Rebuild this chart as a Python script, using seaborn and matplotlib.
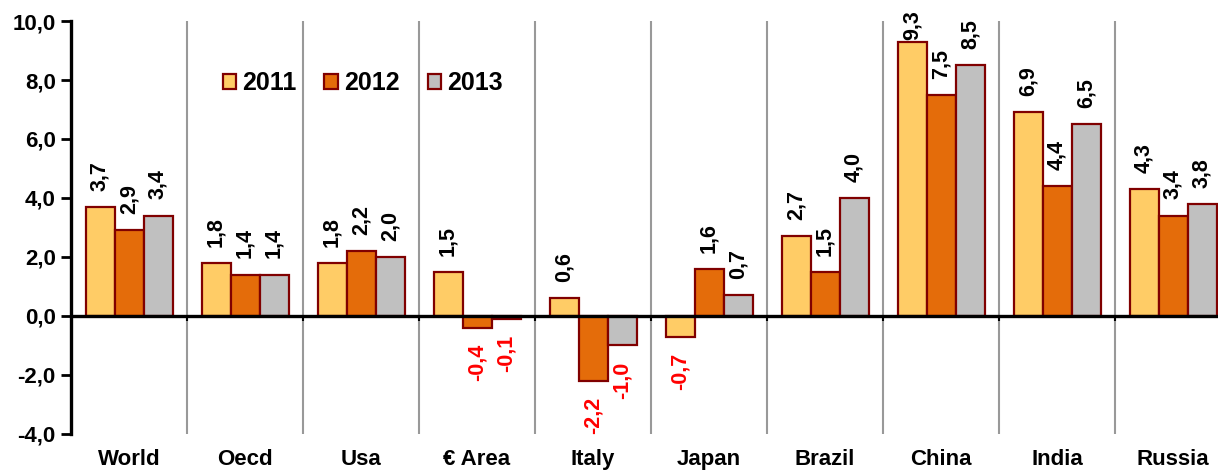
import numpy as np
import pandas as pd
import matplotlib
matplotlib.use("Agg")
import matplotlib.pyplot as plt
import seaborn as sns
from matplotlib.ticker import FuncFormatter

# ── Data ─────────────────────────────────────────────────────────────────────
CATEGORIES = ["World", "Oecd", "Usa", "€ Area", "Italy", "Japan",
              "Brazil", "China", "India", "Russia"]
YEARS = ["2011", "2012", "2013"]
GDP_2011 = [3.7, 1.8, 1.8, 1.5, 0.6, -0.7, 2.7, 9.3, 6.9, 4.3]
GDP_2012 = [2.9, 1.4, 2.2, -0.4, -2.2, 1.6, 1.5, 7.5, 4.4, 3.4]
GDP_2013 = [3.4, 1.4, 2.0, -0.1, -1.0, 0.7, 4.0, 8.5, 6.5, 3.8]

COLORS = ["#FFCC66", "#E46C0A", "#C0C0C0"]
EDGE = "#800000"


def fmt_comma(v, _pos=None):
    return f"{v:.1f}".replace(".", ",")


df = pd.DataFrame({
    "country": CATEGORIES * 3,
    "year": np.repeat(YEARS, len(CATEGORIES)),
    "value": GDP_2011 + GDP_2012 + GDP_2013,
})

sns.set_style("white")
plt.rcParams["font.family"] = ["Liberation Sans", "DejaVu Sans"]
plt.rcParams["font.weight"] = "bold"
plt.rcParams["text.color"] = "black"
plt.rcParams["xtick.color"] = "black"
plt.rcParams["ytick.color"] = "black"

fig = plt.figure(figsize=(12.18, 4.71), dpi=100)
ax = fig.add_axes([71 / 1218, 0.0786, 1160 / 1218, 0.8768])

sns.barplot(
    data=df, x="country", y="value", hue="year", order=CATEGORIES,
    hue_order=YEARS, palette=COLORS, width=0.75, gap=0,
    edgecolor=EDGE, linewidth=1.6, saturation=1, ax=ax,
)

ax.set_xlim(-0.5, len(CATEGORIES) - 0.5)
ax.set_ylim(-4, 10)

# ── Separators, zero line ────────────────────────────────────────────────────
for b in np.arange(0.5, len(CATEGORIES) - 0.5, 1.0):
    ax.axvline(b, color="#999999", lw=1.5, zorder=0)
    ax.vlines(b, -0.18, 0, color="black", lw=1.5, zorder=3)
ax.axhline(0, color="black", lw=2.4, zorder=3)

# ── Value labels ─────────────────────────────────────────────────────────────
series = [GDP_2011, GDP_2012, GDP_2013]
for container, vals in zip(ax.containers, series):
    for bar, v in zip(container, vals):
        x = bar.get_x() + bar.get_width() / 2
        if v >= 0:
            y = min(v + 0.55, 9.35)
            ax.text(x, y, fmt_comma(v), rotation=90, ha="center", va="bottom",
                    fontsize=15.5, fontweight="bold", color="black",
                    clip_on=False)
        else:
            ax.text(x, v - 0.55, fmt_comma(v), rotation=90, ha="center",
                    va="top", fontsize=15.5, fontweight="bold", color="red",
                    clip_on=False)

# ── Axes styling ─────────────────────────────────────────────────────────────
for side in ("top", "right", "bottom"):
    ax.spines[side].set_visible(False)
ax.spines["left"].set_linewidth(2.4)
ax.spines["left"].set_color("black")

ax.set_yticks(np.arange(-4, 10.1, 2))
ax.yaxis.set_major_formatter(FuncFormatter(fmt_comma))
ax.tick_params(axis="y", direction="out", length=7, width=2, color="black",
               labelcolor="black", labelsize=16, left=True, pad=4)
ax.tick_params(axis="x", length=0, labelsize=16, labelcolor="black", pad=11)
for lbl in ax.get_xticklabels() + ax.get_yticklabels():
    lbl.set_fontweight("bold")
ax.set_xlabel("")
ax.set_ylabel("")

handles, labels = ax.get_legend_handles_labels()
ax.get_legend().remove()
fig.legend(
    handles, labels, loc="center left", bbox_to_anchor=(200 / 1218, 1 - 83 / 471),
    ncols=3, frameon=False, handlelength=0.55, handleheight=0.55,
    handletextpad=0.25, columnspacing=1.1, labelcolor="black",
    prop={"size": 18, "weight": "bold"},
)

fig.savefig("out.png", dpi=100)
